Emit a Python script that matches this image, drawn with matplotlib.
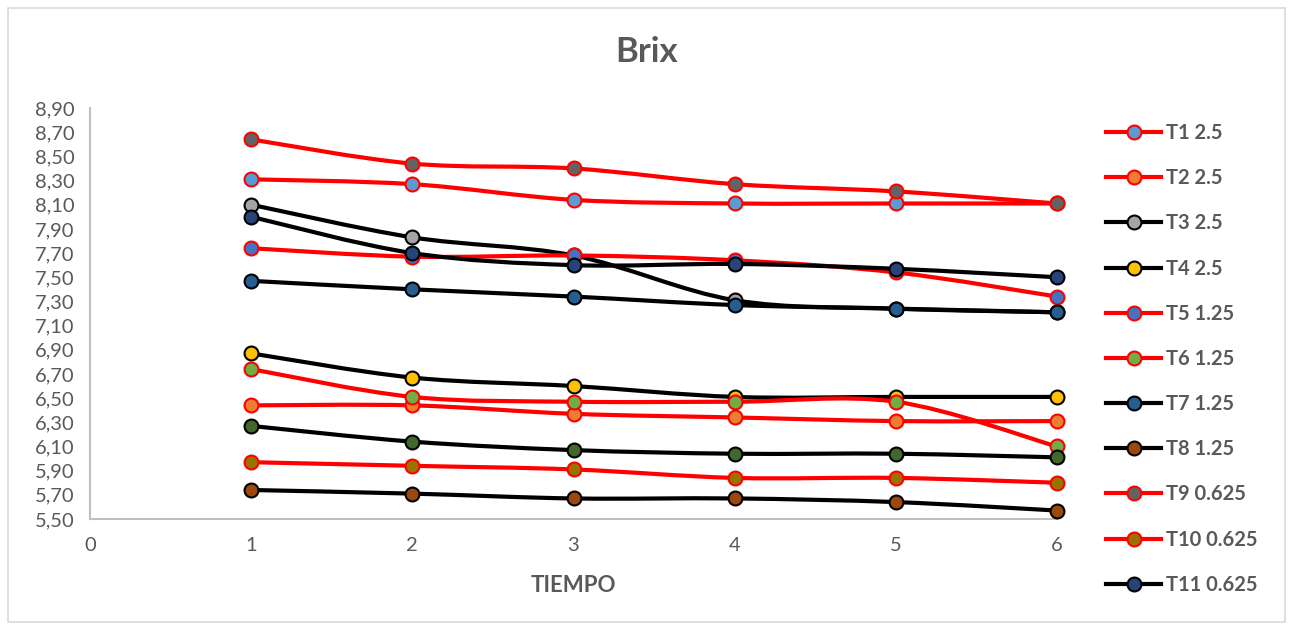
import matplotlib
matplotlib.use('Agg')
import matplotlib.pyplot as plt
from matplotlib.path import Path
from matplotlib.patches import PathPatch, Rectangle
from matplotlib.lines import Line2D
from matplotlib.ticker import FuncFormatter

plt.rcParams['font.family'] = ['Lato', 'DejaVu Sans']

tiempo = [1, 2, 3, 4, 5, 6]

t1 = [8.31, 8.27, 8.14, 8.11, 8.11, 8.11]
t2 = [6.44, 6.44, 6.37, 6.34, 6.31, 6.31]
t3 = [8.10, 7.83, 7.68, 7.31, 7.24, 7.21]
t4 = [6.87, 6.67, 6.60, 6.51, 6.51, 6.51]
t5 = [7.74, 7.67, 7.68, 7.64, 7.54, 7.34]
t6 = [6.74, 6.51, 6.47, 6.47, 6.47, 6.10]
t7 = [7.47, 7.40, 7.34, 7.27, 7.24, 7.21]
t8 = [5.74, 5.71, 5.67, 5.67, 5.64, 5.57]
t9 = [8.64, 8.44, 8.40, 8.27, 8.21, 8.11]
t10 = [5.97, 5.94, 5.91, 5.84, 5.84, 5.80]
t11 = [8.00, 7.70, 7.60, 7.61, 7.57, 7.50]
t12 = [6.27, 6.14, 6.07, 6.04, 6.04, 6.01]

labels = ["T1 2.5", "T2 2.5", "T3 2.5", "T4 2.5", "T5 1.25", "T6 1.25",
          "T7 1.25", "T8 1.25", "T9 0.625", "T10 0.625", "T11 0.625", "T12 0.625"]
series = [t1, t2, t3, t4, t5, t6, t7, t8, t9, t10, t11, t12]
fills = ["#5B9BD5", "#ED7D31", "#A5A5A5", "#FFC000", "#4472C4", "#70AD47",
         "#255E91", "#9E480E", "#636363", "#997300", "#264478", "#43682B"]
lines = ["red", "red", "black", "black", "red", "red",
         "black", "black", "red", "red", "black", "black"]

yticks = [5.5, 5.7, 5.9, 6.1, 6.3, 6.5, 6.7, 6.9, 7.1, 7.3, 7.5,
          7.7, 7.9, 8.1, 8.3, 8.5, 8.7, 8.9]

GREY = "#595959"


def smooth_path(x, y):
    # bezier segments like a spreadsheet "smoothed line"
    pts = list(zip(x, y))
    verts = [pts[0]]
    codes = [Path.MOVETO]
    n = len(pts)
    for i in range(n - 1):
        p0 = pts[i - 1] if i > 0 else pts[i]
        p1 = pts[i]
        p2 = pts[i + 1]
        p3 = pts[i + 2] if i + 2 < n else pts[i + 1]
        c1 = (p1[0] + (p2[0] - p0[0]) / 6, p1[1] + (p2[1] - p0[1]) / 6)
        c2 = (p2[0] - (p3[0] - p1[0]) / 6, p2[1] - (p3[1] - p1[1]) / 6)
        verts += [c1, c2, p2]
        codes += [Path.CURVE4] * 3
    return Path(verts, codes)


fig = plt.figure(figsize=(12.91, 6.30), dpi=100)
ax = fig.add_axes([90 / 1291, 1 - 519 / 630, (1057 - 90) / 1291, (519 - 108) / 630])

handles = []
for i, ys in enumerate(series):
    ax.add_patch(PathPatch(smooth_path(tiempo, ys), facecolor="none",
                           edgecolor=lines[i], lw=3.0, zorder=3 + i, clip_on=False,
                           capstyle="round", joinstyle="round"))
    ax.plot(tiempo, ys, linestyle="none", marker="o", markersize=10,
            markerfacecolor=fills[i], markeredgecolor=lines[i],
            markeredgewidth=1.5, zorder=3 + i, clip_on=False)
    handles.append(Line2D([], [], color=lines[i], lw=3.0, marker="o", markersize=10,
                          markerfacecolor=fills[i], markeredgecolor=lines[i],
                          markeredgewidth=1.5))

ax.set_xlim(0, 6)
ax.set_ylim(5.5, 8.9)
ax.set_xticks(range(0, 7))
ax.set_yticks(yticks)
ax.yaxis.set_major_formatter(FuncFormatter(lambda v, p: ("%.2f" % v).replace(".", ",")))
ax.tick_params(length=0, labelsize=14.5, labelcolor=GREY)
ax.tick_params(axis="y", pad=11)
ax.tick_params(axis="x", pad=13)
for s in ["top", "right"]:
    ax.spines[s].set_visible(False)
for s in ["left", "bottom"]:
    ax.spines[s].set_color("#BFBFBF")
    ax.spines[s].set_linewidth(1.5)

ax.set_xlabel("TIEMPO", fontsize=16, fontweight="bold", color=GREY, labelpad=15)
fig.text(647 / 1291, 1 - 52 / 630, "Brix", ha="center", va="center",
         fontsize=25, fontweight="bold", color=GREY)

leg = fig.legend(handles[:11], labels[:11], loc="upper left",
                 bbox_to_anchor=(1098 / 1291, 1 - 115 / 630), frameon=False,
                 prop={"size": 14.5, "weight": "bold"}, labelspacing=1.25,
                 handlelength=2.75, handletextpad=0.25, borderaxespad=0)
for t in leg.get_texts():
    t.set_color(GREY)

fig.patches.append(Rectangle((8 / 1291, 8 / 630), 1277 / 1291, 614 / 630,
                             transform=fig.transFigure, fill=False,
                             edgecolor="#D9D9D9", lw=1.2))

fig.savefig("out.png", dpi=100)
